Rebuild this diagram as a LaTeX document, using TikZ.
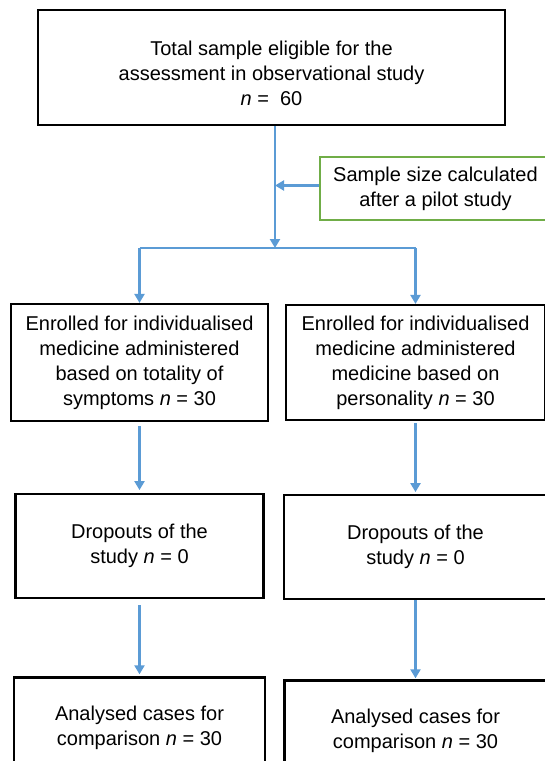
\documentclass[tikz,border=0pt]{standalone}
\usepackage{fontspec}
\setmainfont{Liberation Sans}
\usetikzlibrary{positioning, arrows.meta}
\definecolor{flowblue}{HTML}{5B9BD5}
\definecolor{notegreen}{HTML}{70AD47}

\begin{document}
\begin{tikzpicture}[
    box/.style={draw, line width=1.1pt, align=center, inner sep=2pt, font=\fontsize{10}{12.5}\selectfont},
    note/.style={box, draw=notegreen, line width=1pt},
    flow/.style={-{Triangle[length=4.5pt, width=5pt]}, flowblue, line width=1.1pt},
    link/.style={flowblue, line width=1.1pt},
]
    \useasboundingbox (0,0) rectangle (272.5pt,-380.5pt);

    % Total sample
    \node[box, minimum width=233.5pt, minimum height=57.5pt, text height=38pt] (total) at (135.75pt,-33.75pt)
        {Total sample eligible for the\\assessment in observational study\\\textit{n} =~~60};

    % Pilot study note
    \node[note, minimum width=115.5pt, minimum height=31.5pt] (pilot) at (217.75pt,-94.25pt)
        {Sample size calculated\\after a pilot study};

    % Enrolled groups
    \node[box, minimum width=128.5pt, minimum height=58.5pt] (enrolA) at (69.75pt,-181.25pt)
        {Enrolled for individualised\\medicine administered\\based on totality of\\symptoms \textit{n} = 30};
    \node[box, minimum width=129.5pt, minimum height=57.5pt] (enrolB) at (207.75pt,-181.25pt)
        {Enrolled for individualised\\medicine administered\\medicine based on\\personality \textit{n} = 30};

    % Dropouts
    \node[box, minimum width=124pt, minimum height=52pt, below=35.5pt of enrolA] (dropA)
        {Dropouts of the\\study \textit{n} = 0};
    \node[box, minimum width=131.5pt, minimum height=52pt, below=36.5pt of enrolB] (dropB)
        {Dropouts of the\\study \textit{n} = 0};

    % Analysed cases
    \node[box, minimum width=125.5pt, minimum height=50pt, below=38.5pt of dropA] (analA)
        {Analysed cases for\\comparison \textit{n} = 30};
    \node[box, minimum width=131pt, minimum height=50pt, below=39.5pt of dropB] (analB)
        {Analysed cases for\\comparison \textit{n} = 30};

    % Branch points
    \coordinate (split) at (137.5pt,-124pt);
    \coordinate (brA) at (enrolA.north |- split);
    \coordinate (brB) at (enrolB.north |- split);

    % Arrows
    \draw[flow] (split |- total.south) -- (split);
    \draw[flow] ([yshift=1.5pt]pilot.west) -- ([yshift=1.5pt]split |- pilot.west);
    \draw[link] (brA) -- (brB);
    \draw[flow] (brA) -- (enrolA);
    \draw[flow] (brB) -- (enrolB);

    \draw[flow, shorten <=2pt, shorten >=1.5pt] (enrolA) -- (dropA);
    \draw[flow, shorten <=1pt, shorten >=1pt] (enrolB) -- (dropB);
    \draw[flow, shorten <=3pt, shorten >=1pt] (dropA) -- (analA);
    \draw[flow, shorten >=0.5pt] (dropB) -- (analB);

\end{tikzpicture}
\end{document}
